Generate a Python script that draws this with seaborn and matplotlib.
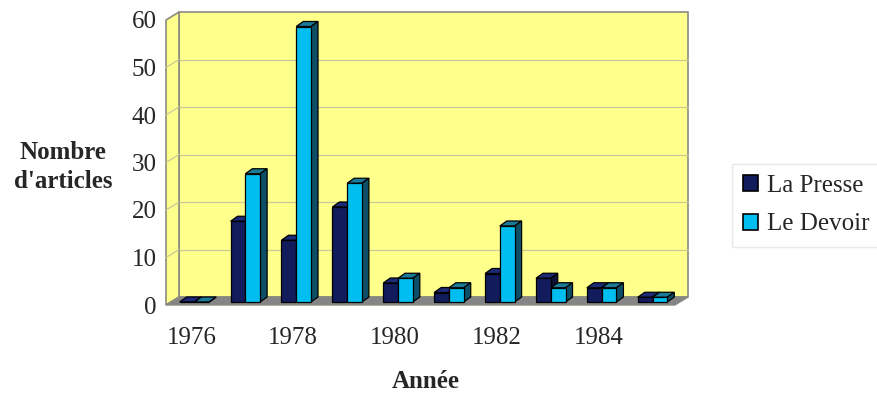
import matplotlib
matplotlib.use("Agg")
import matplotlib.pyplot as plt
import matplotlib.transforms as mtransforms
from matplotlib.patches import Polygon, Rectangle, Patch
import seaborn as sns
import pandas as pd

# Articles per year in the two newspapers
years = [1976, 1977, 1978, 1979, 1980, 1981, 1982, 1983, 1984, 1985]
la_presse = [0, 17, 13, 20, 4, 2, 6, 5, 3, 1]
le_devoir = [0, 27, 58, 25, 5, 3, 16, 3, 3, 1]
series_names = ["La Presse", "Le Devoir"]
year_labels = ["1976", "", "1978", "", "1980", "", "1982", "", "1984", ""]

df = pd.DataFrame({
    "Année": [str(y) for y in years] * 2,
    "Journal": [series_names[0]] * len(years) + [series_names[1]] * len(years),
    "Articles": la_presse + le_devoir,
})

sns.set_theme(style="white")
plt.rcParams["font.family"] = ["Liberation Serif", "DejaVu Serif"]

front_col = {"La Presse": "#121c5c", "Le Devoir": "#00bff0"}
side_col = {"La Presse": "#0a1036", "Le Devoir": "#0d4f66"}
top_col = {"La Presse": "#1c2a78", "Le Devoir": "#1a7a98"}
wall_col = "#ffff8c"
edge_grey = "#8a8a80"

fig = plt.figure(figsize=(8.77, 3.93), dpi=100)
W, H = 877, 393
ax = fig.add_axes([166 / W, 1 - 305 / H, (675 - 166) / W, (305 - 20) / H])
ax.set_xlim(-0.5, 9.5)
ax.set_ylim(0, 60)
ax.set_facecolor("none")
for s in ax.spines.values():
    s.set_visible(False)

# depth of the chart box and of the bars, in data units
px_x = 10 / (675 - 166)
px_y = 60 / (305 - 20)
wdx, wdy = 13 * px_x, 8 * px_y
bdx, bdy = 7 * px_x, 5 * px_y

# back wall, side wall and floor
ax.add_patch(Rectangle((-0.5 + wdx, wdy), 10, 60, facecolor=wall_col,
                       edgecolor=edge_grey, lw=1.2, zorder=0.1, clip_on=False))
ax.add_patch(Polygon([(-0.5, 0), (-0.5, 60), (-0.5 + wdx, 60 + wdy), (-0.5 + wdx, wdy)],
                     closed=True, facecolor=wall_col, edgecolor=edge_grey, lw=1.2,
                     zorder=0.2, clip_on=False))
ax.add_patch(Polygon([(-0.5, 0), (9.5, 0), (9.5 + wdx, wdy), (-0.5 + wdx, wdy)],
                     closed=True, facecolor="#858585", edgecolor=edge_grey, lw=1.0,
                     zorder=0.3, clip_on=False))
for g in range(10, 60, 10):
    ax.plot([-0.5 + wdx, 9.5 + wdx], [g + wdy, g + wdy], color="#c8c89a", lw=0.9,
            zorder=0.15, clip_on=False)
    ax.plot([-0.5, -0.5 + wdx], [g, g + wdy], color="#c8c89a", lw=0.9,
            zorder=0.25, clip_on=False)

sns.barplot(data=df, x="Année", y="Articles", hue="Journal", hue_order=series_names,
            palette=front_col, width=0.58, gap=0, saturation=1, errorbar=None,
            edgecolor="black", linewidth=0.9, ax=ax, legend=False)

# bars stand a little behind the front edge of the floor
bar_trans = mtransforms.offset_copy(ax.transData, fig=fig, x=3, y=3, units="dots")

# extrude each bar with a top face and a right side face
for container, name, z in zip(ax.containers, series_names, (2, 3)):
    for bar in container:
        x0, y0 = bar.get_x(), bar.get_y()
        w, h = bar.get_width(), bar.get_height()
        x1, y1 = x0 + w, y0 + h
        top = Polygon([(x0, y1), (x1, y1), (x1 + bdx, y1 + bdy), (x0 + bdx, y1 + bdy)],
                      closed=True, facecolor=top_col[name], edgecolor="black", lw=0.9,
                      zorder=z + 0.1, clip_on=False, transform=bar_trans)
        side = Polygon([(x1, y0), (x1, y1), (x1 + bdx, y1 + bdy), (x1 + bdx, y0 + bdy)],
                       closed=True, facecolor=side_col[name], edgecolor="black", lw=0.9,
                       zorder=z + 0.1, clip_on=False, transform=bar_trans)
        ax.add_patch(top)
        ax.add_patch(side)
        bar.set_transform(bar_trans)
        bar.set_clip_on(False)
        bar.set_zorder(z + 0.2)

ax.set_xticks(range(len(years)))
ax.set_xticklabels(year_labels, fontsize=18)
ax.set_xticks([i + 0.5 for i in range(len(years) - 1)], minor=True)
ax.tick_params(axis="x", which="major", length=0, pad=16)
ax.tick_params(axis="x", which="minor", length=4, color="#c8c8c8", width=0.8)
ax.set_yticks(range(0, 61, 10))
ax.tick_params(axis="y", length=3, color="#c8c8c8", width=0.8, labelsize=18, pad=3.5)
ax.set_xlabel("")
ax.set_ylabel("")

fig.text(63 / W, 1 - 167 / H, "Nombre\nd'articles", fontsize=18, fontweight="bold",
         ha="center", va="center", linespacing=1.3)
fig.text(426 / W, 1 - 382 / H, "Année", fontsize=18, fontweight="bold",
         ha="center", va="center")

handles = [Patch(facecolor=front_col[n], edgecolor="black", lw=1.2) for n in series_names]
fig.legend(handles, series_names, loc="upper left", bbox_to_anchor=(732 / W, 1 - 164 / H),
           frameon=True, fancybox=False, edgecolor="#e4e4e4", fontsize=18,
           handlelength=0.6, handleheight=0.6, handletextpad=0.35,
           labelspacing=0.65, borderpad=0.45, borderaxespad=0)

fig.savefig("out.png", dpi=100, facecolor="white")
